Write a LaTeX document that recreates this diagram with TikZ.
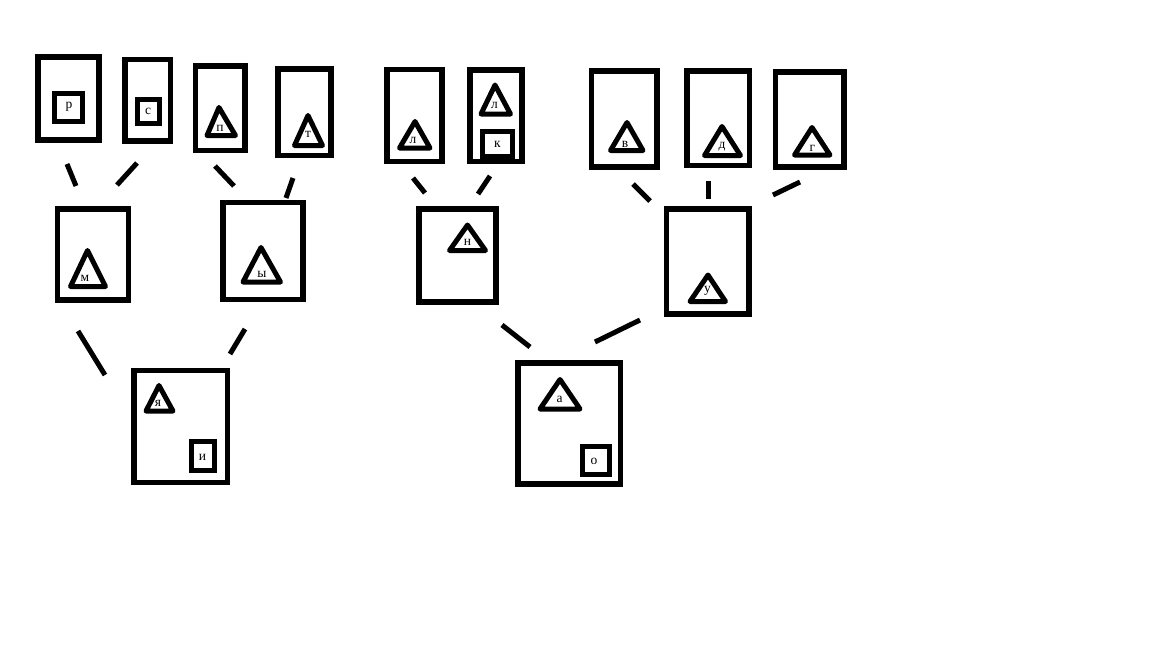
\documentclass[tikz,border=0pt]{standalone}
\usepackage{fontspec}
\setmainfont{Liberation Serif}
\begin{document}
\begin{tikzpicture}[x=1pt,y=-1pt,
  box/.style={draw=black,line width=5.5pt,rectangle,inner sep=0pt,line join=miter},
  sq/.style={draw=black,line width=5pt,line join=miter},
  tri/.style={draw=black,line width=5pt,line join=round},
  lbl/.style={inner sep=0pt,font=\fontsize{13.5}{14}\selectfont},
  link/.style={draw=black,line width=5pt}]
\fill[white] (0,0) rectangle (1152,648);
\useasboundingbox (0,0) rectangle (1152,648);
% big boxes
\node[box,minimum width=61pt,minimum height=83pt] (bR) at (68.5,98.5) {};
\node[box,minimum width=45.5pt,minimum height=81.5pt] (bS) at (147.75,100.25) {};
\node[box,minimum width=49.5pt,minimum height=84.5pt] (bP) at (220.25,108.25) {};
\node[box,minimum width=53pt,minimum height=86.5pt] (bT) at (304.5,112.25) {};
\node[box,minimum width=71pt,minimum height=91pt] (bM) at (93,254.5) {};
\node[box,minimum width=80pt,minimum height=97pt] (bY) at (263,251) {};
\node[box,minimum width=55pt,minimum height=92pt] (bL1) at (414.5,115.5) {};
\node[box,minimum width=52pt,minimum height=91.5pt] (bL2) at (496,115.75) {};
\node[box,minimum width=65.5pt,minimum height=96pt] (bV) at (624.25,119) {};
\node[box,minimum width=62.5pt,minimum height=94.5pt] (bD) at (718.25,118.25) {};
\node[box,minimum width=68.5pt,minimum height=95pt] (bG) at (809.75,119.5) {};
\node[box,minimum width=77pt,minimum height=93pt] (bN) at (457.5,255.5) {};
\node[box,minimum width=82.5pt,minimum height=105pt] (bU) at (707.75,261.5) {};
\node[box,minimum width=93.5pt,minimum height=112pt] (bYa) at (180.75,426.6) {};
\node[box,minimum width=102.5pt,minimum height=121pt] (bA) at (569.25,423.5) {};
% small squares
\draw[sq] (54,93.5) rectangle (82,121.5);
\draw[sq] (137.5,99) rectangle (159,123.5);
\draw[sq] (482,131.5) rectangle (512,156.5);
\draw[sq] (191,441) rectangle (214.5,470);
\draw[sq] (582.5,446) rectangle (609,474);
% triangles
\draw[tri] (219,107.5) -- (235.5,135.5) -- (207,135.5) -- cycle;
\draw[tri] (308,115.5) -- (322.5,145.5) -- (294.5,145.5) -- cycle;
\draw[tri] (87.5,250.5) -- (105.5,286.5) -- (70.5,286.5) -- cycle;
\draw[tri] (261,247.5) -- (280.5,282) -- (243,282) -- cycle;
\draw[tri] (415,121.5) -- (430,148) -- (399.5,148) -- cycle;
\draw[tri] (495,85) -- (510.5,114) -- (481,114) -- cycle;
\draw[tri] (627,122.5) -- (643,150.5) -- (610.5,150.5) -- cycle;
\draw[tri] (722,126.5) -- (740.5,155.5) -- (704.5,155.5) -- cycle;
\draw[tri] (812,127.5) -- (830,155) -- (794.5,155) -- cycle;
\draw[tri] (467.5,225) -- (485.5,250.5) -- (449.5,250.5) -- cycle;
\draw[tri] (708,275) -- (725.5,301.5) -- (690,301.5) -- cycle;
\draw[tri] (159,385.5) -- (173,411) -- (146,411) -- cycle;
\draw[tri] (560,379.5) -- (580,409) -- (540,409) -- cycle;
% labels
\node[lbl] (tR) at (69,107) {р};
\node[lbl] (tS) at (148,111.5) {с};
\node[lbl] (tP) at (220,128) {п};
\node[lbl] (tT) at (308,134.5) {т};
\node[lbl] (tM) at (85,278) {м};
\node[lbl] (tY) at (262,274) {ы};
\node[lbl] (tL1) at (413,140) {л};
\node[lbl] (tL2) at (494.5,105) {л};
\node[lbl] (tK) at (497.5,144) {к};
\node[lbl] (tV) at (625,144) {в};
\node[lbl] (tD) at (722,147) {д};
\node[lbl] (tG) at (812.5,148.5) {г};
\node[lbl] (tN) at (467.5,242) {н};
\node[lbl] (tU) at (707.5,291) {у};
\node[lbl] (tYa) at (158,403) {я};
\node[lbl] (tI) at (202.5,457) {и};
\node[lbl] (tA) at (559.5,399) {а};
\node[lbl] (tO) at (594,461) {о};
% connector ends
\coordinate (c1a) at (67,164);   \coordinate (c1b) at (76,186);
\coordinate (c2a) at (137,163);  \coordinate (c2b) at (117,185);
\coordinate (c3a) at (215,166);  \coordinate (c3b) at (234,186);
\coordinate (c4a) at (293,178);  \coordinate (c4b) at (286,198);
\coordinate (c5a) at (413,178);  \coordinate (c5b) at (425,193);
\coordinate (c6a) at (490,176);  \coordinate (c6b) at (478,194);
\coordinate (c7a) at (633,184);  \coordinate (c7b) at (650,201);
\coordinate (c8a) at (708,181);  \coordinate (c8b) at (708,199);
\coordinate (c9a) at (800,182);  \coordinate (c9b) at (773,195);
\coordinate (c10a) at (78,331);  \coordinate (c10b) at (105,375);
\coordinate (c11a) at (245,329); \coordinate (c11b) at (230,354);
\coordinate (c12a) at (502,325); \coordinate (c12b) at (530,347);
\coordinate (c13a) at (640,320); \coordinate (c13b) at (595,342);
\draw[link] (c1a) -- (c1b);
\draw[link] (c2a) -- (c2b);
\draw[link] (c3a) -- (c3b);
\draw[link] (c4a) -- (c4b);
\draw[link] (c5a) -- (c5b);
\draw[link] (c6a) -- (c6b);
\draw[link] (c7a) -- (c7b);
\draw[link] (c8a) -- (c8b);
\draw[link] (c9a) -- (c9b);
\draw[link] (c10a) -- (c10b);
\draw[link] (c11a) -- (c11b);
\draw[link] (c12a) -- (c12b);
\draw[link] (c13a) -- (c13b);
\end{tikzpicture}
\end{document}
